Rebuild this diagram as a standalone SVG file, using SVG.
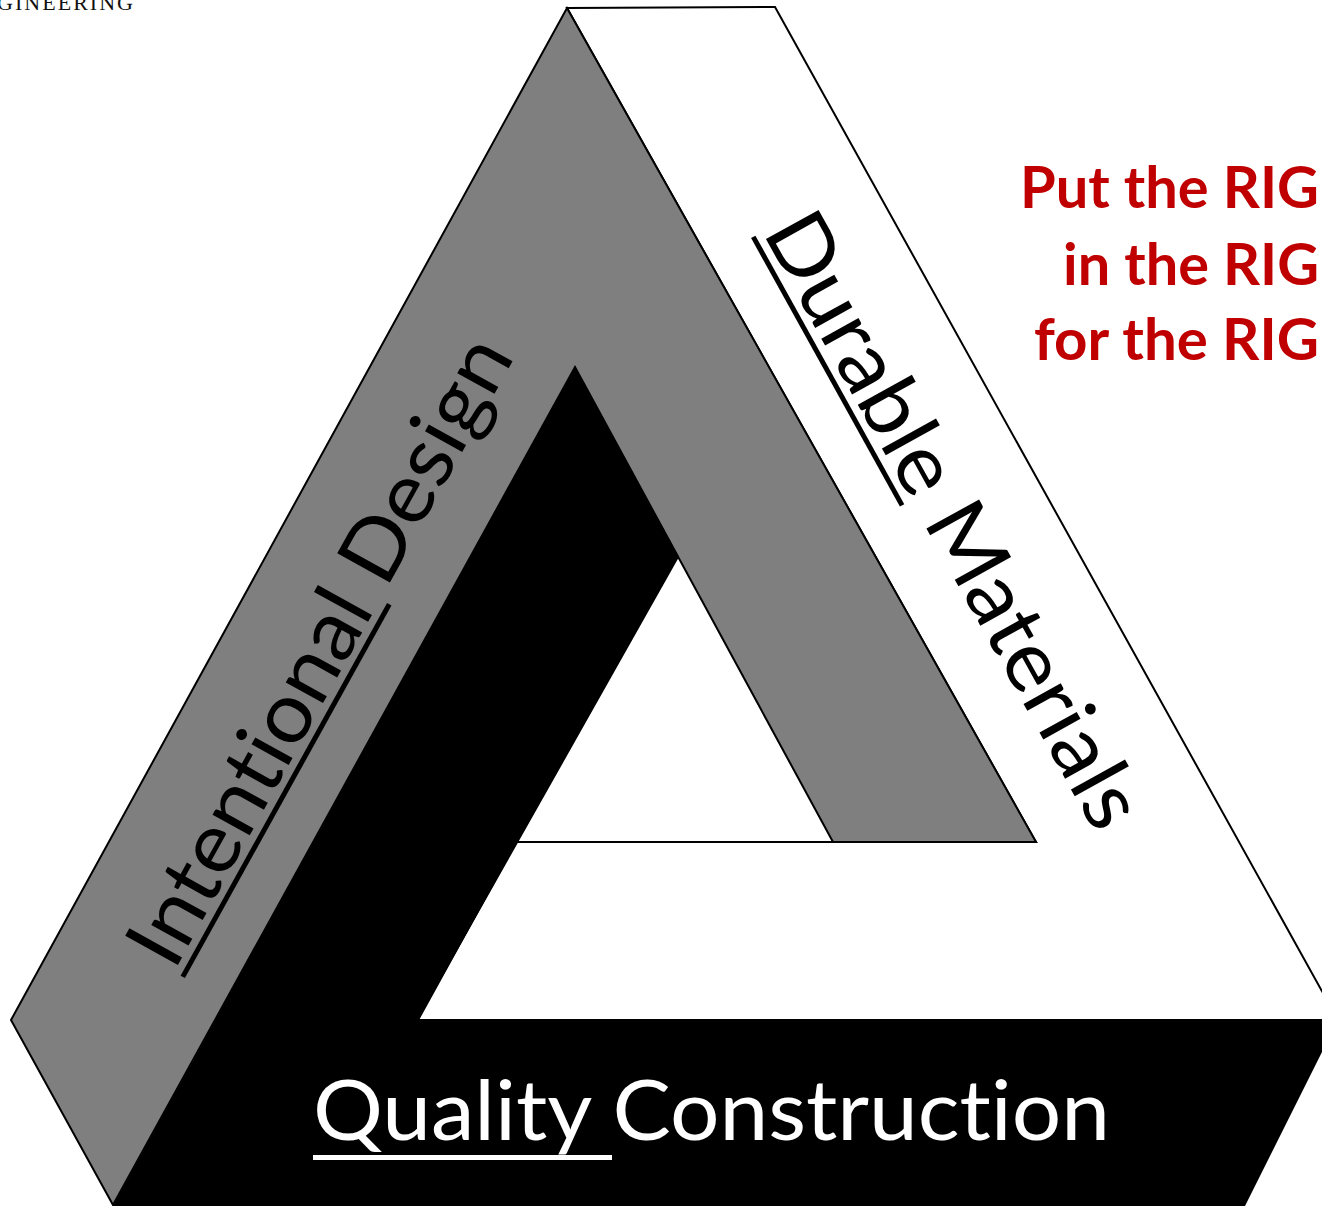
<svg xmlns="http://www.w3.org/2000/svg" width="1322" height="1206" viewBox="0 0 1322 1206">
<style>
.lbl{font-family:Lato,"Open Sans","Liberation Sans",sans-serif;font-size:84px;font-variant-ligatures:none;font-feature-settings:"liga" 0,"clig" 0}
.red{font-family:Lato,"Open Sans","Liberation Sans",sans-serif;font-weight:700;font-size:57px;fill:#c00000;text-anchor:end;font-variant-ligatures:none}
.edge{stroke:#000;stroke-width:2;stroke-linejoin:miter}
</style>
<rect width="1322" height="1206" fill="#fff"/>
<g id="header">
<text x="-3" y="10" font-family="'Liberation Serif',serif" font-size="22" textLength="136" lengthAdjust="spacing" fill="#111">GINEERING</text>
</g>
<g id="connectors">
<g id="band-durable"><polygon class="edge" fill="#fff" points="567,8 775,7 1338,1020 418,1020 516,842 1036,842"/></g>
<g id="band-intentional"><polygon class="edge" fill="#7f7f7f" points="567,8 1036,842 833,842 575,367 113,1205 11,1020"/></g>
<g id="band-quality"><polygon fill="#000" points="575,367 679,557 418,1020 1338,1020 1245,1206 113,1206"/></g>
</g>
<g id="label-intentional" transform="translate(174,972) rotate(-61)">
<text class="lbl" x="0" y="0" textLength="704" lengthAdjust="spacingAndGlyphs" fill="#000">Intentional Design</text>
<line x1="0" y1="10" x2="426" y2="10" stroke="#000" stroke-width="5"/>
</g>
<g id="label-durable" transform="translate(762,232) rotate(61)">
<text class="lbl" x="0" y="0" textLength="690" lengthAdjust="spacingAndGlyphs" fill="#000">Durable Materials</text>
<line x1="0" y1="10" x2="307" y2="10" stroke="#000" stroke-width="5"/>
</g>
<g id="label-quality">
<text class="lbl" x="313" y="1140" textLength="797" lengthAdjust="spacingAndGlyphs" fill="#fff">Quality Construction</text>
<rect x="313" y="1155" width="299" height="5" fill="#fff"/>
</g>
<g id="slogan">
<text class="red" x="1319" y="208" textLength="299" lengthAdjust="spacingAndGlyphs">Put the RIG</text>
<text class="red" x="1319" y="285" textLength="256" lengthAdjust="spacingAndGlyphs">in the RIG</text>
<text class="red" x="1319" y="360" textLength="285" lengthAdjust="spacingAndGlyphs">for the RIG</text>
</g>
</svg>
